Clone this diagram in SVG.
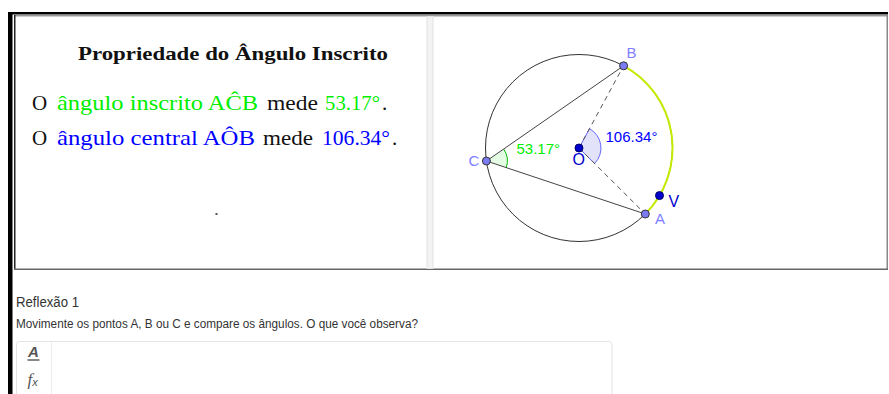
<svg xmlns="http://www.w3.org/2000/svg" width="889" height="394" viewBox="0 0 889 394">
<defs>
<style>
.ser{font-family:"Liberation Serif","Times New Roman",serif;font-size:21px}
.san{font-family:"Liberation Sans",Arial,sans-serif;font-size:15px}
.big{font-size:16px}
.ui{font-family:"Liberation Sans","Open Sans",sans-serif;fill:#333}
.pt{fill:#7b7bf2;stroke:#333;stroke-width:1}
.dk{fill:#0000cc;stroke:#000066;stroke-width:1}
.grn{fill:#00ee00}
.blu{fill:#0000ff}
.lbl{fill:#7f7fff}
</style>
</defs>
<rect width="889" height="394" fill="#fff"/>
<!-- frame -->
<g id="frame">
<rect x="8" y="12" width="4.5" height="382" fill="#000"/>
<rect x="8" y="12" width="880" height="2.5" fill="#000"/>
<rect x="14" y="15" width="874" height="1.5" fill="#999"/>
<rect x="14" y="15" width="1.5" height="255" fill="#222"/>
<rect x="886.5" y="15" width="1.5" height="255" fill="#888"/>
<rect x="14" y="268.5" width="874" height="1.5" fill="#666"/>
<rect x="427" y="16.5" width="6" height="252" fill="#f3f3f3" stroke="#e2e2e2" stroke-width="1"/>
</g>
<!-- left panel text -->
<g id="text-panel">
<text x="78" y="60" font-family="Liberation Serif,serif" font-weight="bold" font-size="19" fill="#111" textLength="310" lengthAdjust="spacingAndGlyphs">Propriedade do Ângulo Inscrito</text>
<text class="ser" x="32" y="110" fill="#111">O</text>
<text class="ser grn" x="57" y="110" textLength="201" lengthAdjust="spacingAndGlyphs">ângulo inscrito AĈB</text>
<text class="ser" x="267" y="110" fill="#111" textLength="51" lengthAdjust="spacingAndGlyphs">mede</text>
<text class="ser grn" x="325" y="110" textLength="55" lengthAdjust="spacingAndGlyphs">53.17°</text>
<text class="ser" x="382" y="110" fill="#111">.</text>
<text class="ser" x="32" y="145" fill="#111">O</text>
<text class="ser blu" x="57" y="145" textLength="198" lengthAdjust="spacingAndGlyphs">ângulo central AÔB</text>
<text class="ser" x="263" y="145" fill="#111" textLength="50" lengthAdjust="spacingAndGlyphs">mede</text>
<text class="ser blu" x="322" y="145" textLength="68" lengthAdjust="spacingAndGlyphs">106.34°</text>
<text class="ser" x="392" y="145" fill="#111">.</text>
<rect x="215.5" y="213" width="2" height="2" fill="#555"/>
</g>
<!-- geometry -->
<g id="circle">
<circle cx="579" cy="148" r="93.5" fill="none" stroke="#333" stroke-width="1"/>
<path d="M645.3 214 A93.5 93.5 0 0 0 623.6 65.8" fill="none" stroke="#c6ea00" stroke-width="2"/>
</g>
<g id="angle-C">
<path d="M486.4 161 L503.7 149.1 A21 21 0 0 1 506.3 167.6 Z" fill="#e4fbe4" stroke="none"/>
<path d="M503.7 149.1 A21 21 0 0 1 506.3 167.6" fill="none" stroke="#00bb00" stroke-width="1"/>
</g>
<g id="angle-O">
<path d="M579 148 L589.5 128.7 A22 22 0 0 1 594.6 163.5 Z" fill="#e2e2fa" stroke="#6666ff" stroke-width="1"/>
</g>
<g id="connectors" fill="none">
<line x1="486.4" y1="161" x2="623.6" y2="65.8" stroke="#444" stroke-width="1"/>
<line x1="486.4" y1="161" x2="645.3" y2="214" stroke="#444" stroke-width="1"/>
<line x1="579" y1="148" x2="623.6" y2="65.8" stroke="#555" stroke-width="1" stroke-dasharray="5,4"/>
<line x1="579" y1="148" x2="645.3" y2="214" stroke="#555" stroke-width="1" stroke-dasharray="5,4"/>
</g>
<g id="point-B"><circle class="pt" cx="623.6" cy="65.8" r="4"/><text class="san lbl" x="626.5" y="58">B</text></g>
<g id="point-A"><circle class="pt" cx="645.3" cy="214" r="4"/><text class="san lbl" x="655" y="223.5">A</text></g>
<g id="point-C"><circle class="pt" cx="486.4" cy="161" r="4"/><text class="san lbl" x="468.5" y="166">C</text></g>
<g id="point-O"><circle class="dk" cx="579" cy="148" r="4"/><text class="san big" x="572.5" y="164.5" fill="#0000cc">O</text></g>
<g id="point-V"><circle class="dk" cx="659.5" cy="195.6" r="4"/><text class="san big" x="668.5" y="206.5" fill="#0000cc">V</text></g>
<g id="labels">
<text class="san grn" x="516.5" y="154.3">53.17°</text>
<text class="san blu" x="605.5" y="141.5">106.34°</text>
</g>
<!-- bottom -->
<g id="reflexao">
<text class="ui" x="16" y="307" font-size="14" textLength="63" lengthAdjust="spacingAndGlyphs">Reflexão 1</text>
<text class="ui" x="16" y="328" font-size="12" fill="#222" textLength="402" lengthAdjust="spacingAndGlyphs">Movimente os pontos A, B ou C e compare os ângulos. O que você observa?</text>
</g>
<g id="input-box">
<rect x="16.5" y="341.5" width="595.5" height="70" rx="3" fill="#fff" stroke="#e4e4e4" stroke-width="1"/>
<line x1="51.5" y1="342" x2="51.5" y2="394" stroke="#ececec" stroke-width="1"/>
<text x="28" y="357" font-family="Liberation Sans,Arial,sans-serif" font-weight="bold" font-style="italic" font-size="15" fill="#555">A</text>
<line x1="27.5" y1="360" x2="39.5" y2="360" stroke="#555" stroke-width="1.4"/>
<text x="27.5" y="385" font-family="Liberation Serif,serif" font-style="italic" font-size="17" fill="#555">f<tspan font-family="Liberation Sans,sans-serif" font-size="11" dy="1">x</tspan></text>
</g>
</svg>
